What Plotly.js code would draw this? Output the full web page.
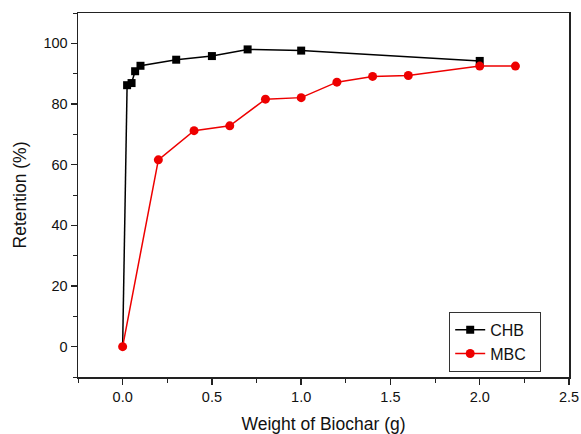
<!DOCTYPE html>
<html>
<head>
<meta charset="utf-8">
<script src="https://cdn.plot.ly/plotly-3.0.1.min.js"></script>
<style>html,body{margin:0;padding:0;background:#fff;}#chart{width:581px;height:434px;}</style>
</head>
<body>
<div id="chart"></div>
<script>
var chbX = [0, 0.025, 0.05, 0.07, 0.1, 0.3, 0.5, 0.7, 1.0, 2.0];
var chbY = [0, 86.2, 86.9, 90.8, 92.6, 94.6, 95.8, 98.0, 97.6, 94.2];
var mbcX = [0, 0.2, 0.4, 0.6, 0.8, 1.0, 1.2, 1.4, 1.6, 2.0, 2.2];
var mbcY = [0, 61.6, 71.2, 72.8, 81.6, 82.1, 87.2, 89.1, 89.4, 92.5, 92.5];
var xTicks = [0.0, 0.5, 1.0, 1.5, 2.0, 2.5];
var xTickText = ["0.0", "0.5", "1.0", "1.5", "2.0", "2.5"];
var yTicks = [0, 20, 40, 60, 80, 100];

var font = "Liberation Sans, Arial, sans-serif";
// the shared origin point is shown by the MBC circle only: CHB's first segment is drawn as a plain line
var traces = [
  {x: chbX.slice(0, 2), y: chbY.slice(0, 2), mode: "lines", type: "scatter", showlegend: false,
   line: {color: "#000000", width: 1.5}},
  {x: chbX.slice(1), y: chbY.slice(1), name: "CHB\u00a0\u00a0", mode: "lines+markers", type: "scatter",
   line: {color: "#000000", width: 1.5}, marker: {symbol: "square", size: 8, color: "#000000"}},
  {x: mbcX, y: mbcY, name: "MBC\u00a0\u00a0", mode: "lines+markers", type: "scatter",
   line: {color: "#ee0000", width: 1.5}, marker: {symbol: "circle", size: 9, color: "#ee0000"}}
];
var layout = {
  width: 581, height: 434,
  margin: {l: 78, r: 12, t: 13, b: 57},
  paper_bgcolor: "#ffffff", plot_bgcolor: "#ffffff",
  font: {family: font, color: "#111111", size: 14},
  showlegend: true,
  legend: {x: 0.756, y: 0.179, xanchor: "left", yanchor: "top",
           bordercolor: "#333333", borderwidth: 1, bgcolor: "#ffffff",
           font: {family: font, size: 16, color: "#111111"},
           tracegroupgap: 0, itemwidth: 30},
  xaxis: {range: [-0.25, 2.5], tickvals: xTicks, ticktext: xTickText,
          showgrid: false, zeroline: false, showline: true, linecolor: "#222222", linewidth: 1.5,
          mirror: true, ticks: "outside", ticklen: 6, tickwidth: 1.5, tickcolor: "#222222",
          minor: {dtick: 0.25, ticks: "outside", ticklen: 4, tickwidth: 1, tickcolor: "#222222", showgrid: false},
          tickfont: {family: font, size: 14.5},
          title: {text: "Weight of Biochar (g)", font: {family: font, size: 17.5}, standoff: 14}},
  yaxis: {range: [-10, 110], tickvals: yTicks,
          showgrid: false, zeroline: false, showline: true, linecolor: "#222222", linewidth: 1.5,
          mirror: true, ticks: "outside", ticklen: 6, tickwidth: 1.5, tickcolor: "#222222",
          minor: {dtick: 10, ticks: "outside", ticklen: 4, tickwidth: 1, tickcolor: "#222222", showgrid: false},
          tickfont: {family: font, size: 14.5},
          title: {text: "Retention (%)", font: {family: font, size: 17.5}, standoff: 12}}
};
Plotly.newPlot("chart", traces, layout, {displayModeBar: false, staticPlot: true});
</script>
</body>
</html>
